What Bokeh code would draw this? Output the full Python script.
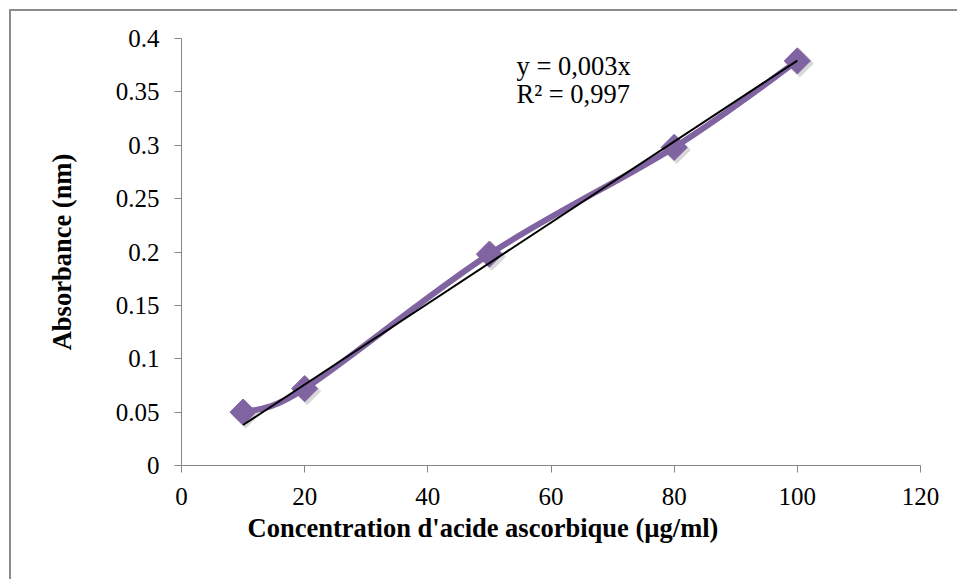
from bokeh.plotting import figure
from bokeh.models import Range1d, Label, Title, FixedTicker
from bokeh.embed import file_html
from bokeh.resources import INLINE
import numpy as np

# data
concentration = [10, 20, 50, 80, 100]
absorbance = [0.05, 0.072, 0.198, 0.298, 0.379]
x_ticks = [0, 20, 40, 60, 80, 100, 120]
y_ticks = [0, 0.05, 0.1, 0.15, 0.2, 0.25, 0.3, 0.35, 0.4]
eq_text = "y = 0,003x"
r2_text = "R² = 0,997"
x_title = "Concentration d'acide ascorbique (µg/ml)"
y_title = "Absorbance (nm)"

PURPLE = "#8064A2"
AXIS = "#868686"
FONT = "Liberation Serif"

# outer chart border drawn with CSS; canvas content starts at (11, 11)
OFF = 11
W, H = 959 - OFF, 581 - OFF
L, T = 181 - OFF, 38 - OFF
FW, FH = 739, 427
R, B = W - L - FW, H - T - FH

p = figure(width=W, height=H, output_backend="svg", toolbar_location=None,
           x_range=Range1d(0, 120), y_range=Range1d(0, 0.4),
           min_border_left=L, min_border_right=R, min_border_top=T, min_border_bottom=B)
p.styles = {"margin-left": "9px", "margin-top": "9px",
            "border-left": "2px solid #8c8c8c", "border-top": "2px solid #8c8c8c"}
p.xgrid.visible = False
p.ygrid.visible = False
p.outline_line_color = None
p.background_fill_color = "white"
p.border_fill_color = "white"

for ax in (p.xaxis[0], p.yaxis[0]):
    ax.axis_line_color = AXIS
    ax.major_tick_line_color = AXIS
    ax.minor_tick_line_color = None
    ax.major_tick_in = 0
    ax.major_tick_out = 7
    ax.major_label_text_font = FONT
    ax.major_label_text_font_size = "25px"
    ax.major_label_text_color = "black"

p.xaxis[0].ticker = FixedTicker(ticks=x_ticks)
p.yaxis[0].ticker = FixedTicker(ticks=y_ticks)
p.yaxis[0].major_label_overrides = {v: f"{v:g}" for v in y_ticks}
p.xaxis[0].major_label_standoff = 15
p.yaxis[0].major_label_standoff = 15

p.yaxis[0].axis_label = y_title
p.yaxis[0].axis_label_text_font = FONT
p.yaxis[0].axis_label_text_font_style = "bold"
p.yaxis[0].axis_label_text_font_size = "26.5px"
p.yaxis[0].axis_label_standoff = 36
p.yaxis[0].axis_label_text_color = "black"

xt = Title(text=x_title, align="left", offset=66, text_font=FONT, text_font_style="bold",
           text_font_size="26.5px", text_color="black", standoff=6)
p.add_layout(xt, "below")

# smoothed line (cardinal spline through the data points)
xs = np.array(concentration, float)
ys = np.array(absorbance, float)
n = len(xs)
xp = np.concatenate([[xs[0]], xs, [xs[-1]]])
yp = np.concatenate([[ys[0]], ys, [ys[-1]]])
x0, y0 = xs[:-1], ys[:-1]
x1, y1 = xs[1:], ys[1:]
cx0 = xp[1:n] + (xp[2:n + 1] - xp[0:n - 1]) / 6
cy0 = yp[1:n] + (yp[2:n + 1] - yp[0:n - 1]) / 6
cx1 = xp[2:n + 1] - (xp[3:n + 2] - xp[1:n]) / 6
cy1 = yp[2:n + 1] - (yp[3:n + 2] - yp[1:n]) / 6

# soft marker shadow (offset a few pixels down-right)
px_x = 120 / FW
px_y = 0.4 / FH
for k, a in ((3, 0.08), (2, 0.08)):
    p.scatter(xs + k * px_x, ys - k * px_y, marker="square", angle=np.pi / 4, size=19 + (3 - k) * 2,
              fill_color="#000000", fill_alpha=a, line_color=None)

p.bezier(x0=x0, y0=y0, x1=x1, y1=y1, cx0=cx0, cy0=cy0, cx1=cx1, cy1=cy1,
         line_color=PURPLE, line_width=6)
p.scatter(xs, ys, marker="square", angle=np.pi / 4, size=18.5,
          fill_color=PURPLE, line_color=PURPLE)

# trendline through origin, fitted from the data
slope = float(np.sum(xs * ys) / np.sum(xs * xs))
p.line([xs.min(), xs.max()], [slope * xs.min(), slope * xs.max()], line_color="black", line_width=2)

p.add_layout(Label(x=54.4, y=0.3745, text=eq_text, text_font=FONT, text_font_size="26.5px",
                   text_baseline="middle", text_color="black"))
p.add_layout(Label(x=54.4, y=0.3483, text=r2_text, text_font=FONT, text_font_size="26.5px",
                   text_baseline="middle", text_color="black"))

open("out.html", "w").write(file_html(p, INLINE))
